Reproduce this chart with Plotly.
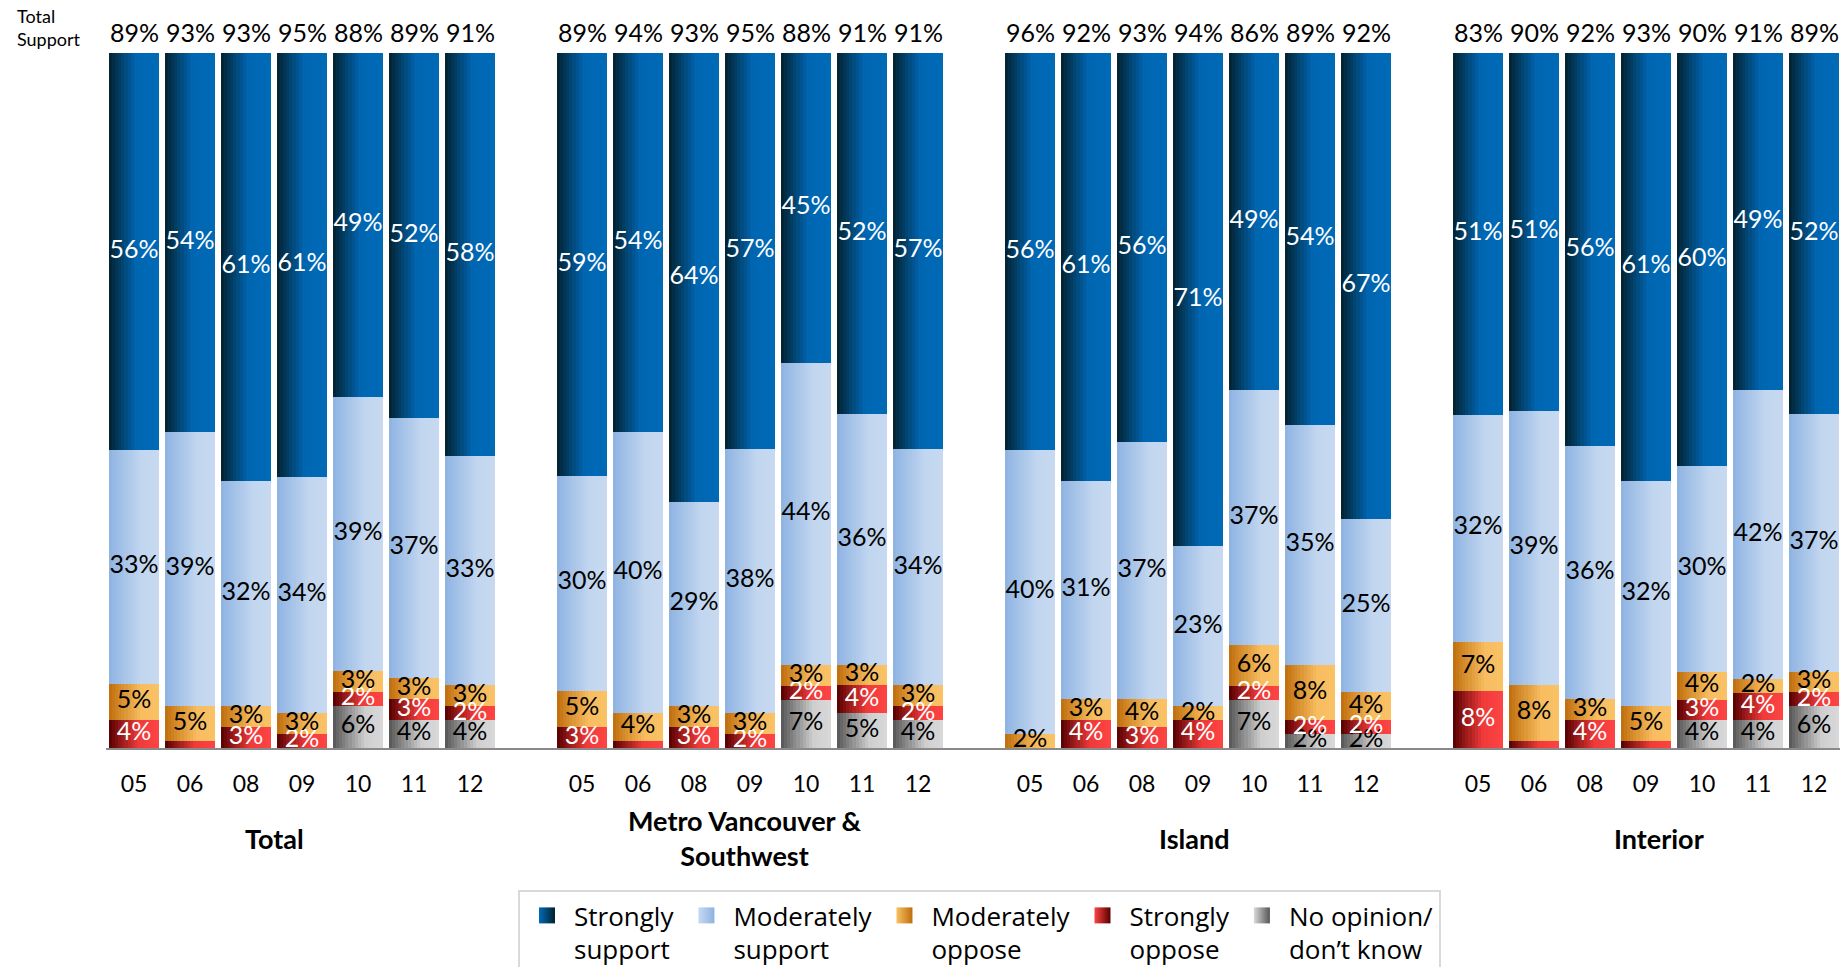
import plotly.graph_objects as go

# ---------------- data ----------------
years = ["05", "06", "08", "09", "10", "11", "12"]
regions = ["Total", "Metro Vancouver &<br>Southwest", "Island", "Interior"]

# values per bar, region by region (Total, Metro Vancouver & Southwest, Island, Interior), years 05..12
strongly_support = [56, 54, 61, 61, 49, 52, 58,
                    59, 54, 64, 57, 45, 52, 57,
                    56, 61, 56, 71, 49, 54, 67,
                    51, 51, 56, 61, 60, 49, 52]
moderately_support = [33, 39, 32, 34, 39, 37, 33,
                      30, 40, 29, 38, 44, 36, 34,
                      40, 31, 37, 23, 37, 35, 25,
                      32, 39, 36, 32, 30, 42, 37]
moderately_oppose = [5, 5, 3, 3, 3, 3, 3,
                     5, 4, 3, 3, 3, 3, 3,
                     2, 3, 4, 2, 6, 8, 4,
                     7, 8, 3, 5, 4, 2, 3]
strongly_oppose = [4, 1, 3, 2, 2, 3, 2,
                   3, 1, 3, 2, 2, 4, 2,
                   0, 4, 3, 4, 2, 2, 2,
                   8, 1, 4, 1, 3, 4, 2]
no_opinion = [0, 0, 0, 0, 6, 4, 4,
              0, 0, 0, 0, 7, 5, 4,
              0, 0, 0, 0, 7, 2, 2,
              0, 0, 0, 0, 4, 4, 6]
total_support = [89, 93, 93, 95, 88, 89, 91,
                 89, 94, 93, 95, 88, 91, 91,
                 96, 92, 93, 94, 86, 89, 92,
                 83, 90, 92, 93, 90, 91, 89]

series_names = ["Strongly<br>support", "Moderately<br>support", "Moderately<br>oppose",
                "Strongly<br>oppose", "No opinion/<br>don\u2019t know"]
series_values = [strongly_support, moderately_support, moderately_oppose, strongly_oppose, no_opinion]

# ---------------- styles ----------------
FONT = "Lato"
gradients = [
    [(0.0, "#03212f"), (0.55, "#0066b2"), (1.0, "#006ab7")],
    [(0.0, "#8db3e2"), (0.65, "#c2d6ef"), (1.0, "#c6d9f1")],
    [(0.0, "#bf6e0c"), (0.65, "#f8bd60"), (1.0, "#fac165")],
    [(0.0, "#560000"), (0.6, "#f03b3b"), (1.0, "#ff4444")],
    [(0.0, "#555555"), (0.65, "#cfcfcf"), (1.0, "#d9d9d9")],
]
label_colors = ["white", "black", "black", "white", "black"]


def hex2rgb(h):
    h = h.lstrip("#")
    return tuple(int(h[i:i + 2], 16) for i in (0, 2, 4))


def grad_color(stops, t):
    for (t0, c0), (t1, c1) in zip(stops[:-1], stops[1:]):
        if t <= t1:
            f = (t - t0) / (t1 - t0) if t1 > t0 else 0
            a, b = hex2rgb(c0), hex2rgb(c1)
            return "rgb(%d,%d,%d)" % tuple(round(a[i] + (b[i] - a[i]) * f) for i in range(3))
    return stops[-1][1]


n_years = len(years)
slots = [g * (n_years + 1) + j for g in range(len(regions)) for j in range(n_years)]
ticktext = [y for _ in regions for y in years]

# 100% stacked: normalise each column
totals = [sum(s[i] for s in series_values) for i in range(len(slots))]
heights = [[v / t * 100 for v, t in zip(s, totals)] for s in series_values]
# stack from the bottom: no opinion, strongly oppose, moderately oppose, moderately support, strongly support
bases = [None] * len(series_values)
run = [0.0] * len(slots)
for si in reversed(range(len(series_values))):
    bases[si] = list(run)
    run = [r + x for r, x in zip(run, heights[si])]

fig = go.Figure()

BAR_W = 0.91
N_SLICES = 16
sw = BAR_W / N_SLICES
for si in range(len(series_values)):
    for k in range(N_SLICES):
        t = (k + 0.5) / N_SLICES
        w = sw if k == N_SLICES - 1 else sw * 1.6
        fig.add_trace(go.Bar(
            x=slots, y=heights[si], base=bases[si],
            width=w, offset=-BAR_W / 2 + k * sw,
            marker=dict(color=grad_color(gradients[si], t), line=dict(width=0)),
            showlegend=False, hoverinfo="skip",
        ))

# segment labels (drawn bottom series first)
for si in reversed(range(len(series_values))):
    vals = series_values[si]
    fig.add_trace(go.Scatter(
        x=slots,
        y=[b + h / 2 for b, h in zip(bases[si], heights[si])],
        text=[f"{v}%" if v >= 2 else "" for v in vals],
        mode="text", textposition="middle center",
        textfont=dict(family=FONT, size=25, color=label_colors[si]),
        showlegend=False, hoverinfo="skip",
    ))

# legend entries
for si, name in enumerate(series_names):
    fig.add_trace(go.Scatter(
        x=[None], y=[None], mode="markers", name=name,
        marker=dict(symbol="square", size=16, color=gradients[si][-1][1],
                    gradient=dict(type="horizontal", color=gradients[si][0][1]),
                    line=dict(width=0)),
    ))

annotations = []
# total support labels above the bars
for x, v in zip(slots, total_support):
    annotations.append(dict(x=x, y=1, xref="x", yref="paper", yshift=21.5,
                            text=f"{v}%", showarrow=False,
                            font=dict(family=FONT, size=25, color="black"),
                            xanchor="center", yanchor="middle"))
# region labels
region_x = [2.51, 10.91, 18.93, 27.24]
for rx, r in zip(region_x, regions):
    annotations.append(dict(x=rx, y=-0.1295, xref="x", yref="paper", text=f"<b>{r}</b>",
                            showarrow=False, font=dict(family=FONT, size=27, color="black"),
                            xanchor="center", yanchor="middle", align="center"))
annotations.append(dict(x=-0.0524, y=1.0374, xref="paper", yref="paper",
                        text="Total<br>Support", showarrow=False, align="left",
                        font=dict(family=FONT, size=18, color="black"),
                        xanchor="left", yanchor="middle"))

W, H = 1840, 959
fig.update_layout(
    width=W, height=H,
    margin=dict(l=98, r=6, t=45, b=219),
    barmode="overlay", bargap=0,
    paper_bgcolor="white", plot_bgcolor="white",
    font=dict(family=FONT, color="black"),
    showlegend=True,
    legend=dict(orientation="h", xref="container", yref="container",
                x=510 / W, y=1 - 882 / H, xanchor="left", yanchor="top",
                bordercolor="#d9d9d9", borderwidth=2, bgcolor="white",
                font=dict(family="Open Sans", size=26, color="black"),
                itemwidth=44, valign="top", traceorder="normal"),
    annotations=annotations,
)
fig.update_xaxes(range=[-0.5, len(regions) * (n_years + 1) - 1 - 0.5],
                 tickvals=slots, ticktext=ticktext, ticks="",
                 tickfont=dict(family=FONT, size=23, color="black"),
                 showline=True, linecolor="#898989", linewidth=2,
                 showgrid=False, zeroline=False, ticklabelstandoff=14)
fig.update_yaxes(range=[0, 100], visible=False, showgrid=False, zeroline=False)

fig.write_html("out.html")
